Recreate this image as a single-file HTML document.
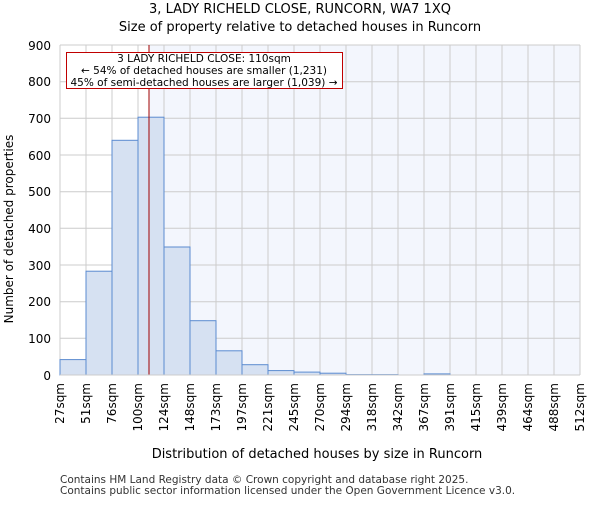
<!DOCTYPE html>
<html><head><style>body{margin:0;background:#fff}svg{font-family:"DejaVu Sans","Liberation Sans",sans-serif}</style></head><body>
<svg width="600" height="500" xmlns="http://www.w3.org/2000/svg">
<text x="300" y="13" font-size="13" text-anchor="middle">3, LADY RICHELD CLOSE, RUNCORN, WA7 1XQ</text>
<text x="300" y="31" font-size="13" text-anchor="middle">Size of property relative to detached houses in Runcorn</text>
<rect x="60" y="45" width="520" height="330" fill="#fff"/>
<rect x="149" y="45" width="431" height="330" fill="#f3f6fd"/>
<g stroke="#cccccc" stroke-width="1">
<line x1="60" x2="580" y1="45" y2="45"/><line x1="60" x2="580" y1="81.7" y2="81.7"/><line x1="60" x2="580" y1="118.3" y2="118.3"/><line x1="60" x2="580" y1="155" y2="155"/><line x1="60" x2="580" y1="191.7" y2="191.7"/><line x1="60" x2="580" y1="228.3" y2="228.3"/><line x1="60" x2="580" y1="265" y2="265"/><line x1="60" x2="580" y1="301.7" y2="301.7"/><line x1="60" x2="580" y1="338.3" y2="338.3"/>
<line x1="60" x2="60" y1="45" y2="375"/><line x1="86" x2="86" y1="45" y2="375"/><line x1="112" x2="112" y1="45" y2="375"/><line x1="138" x2="138" y1="45" y2="375"/><line x1="164" x2="164" y1="45" y2="375"/><line x1="190" x2="190" y1="45" y2="375"/><line x1="216" x2="216" y1="45" y2="375"/><line x1="242" x2="242" y1="45" y2="375"/><line x1="268" x2="268" y1="45" y2="375"/><line x1="294" x2="294" y1="45" y2="375"/><line x1="320" x2="320" y1="45" y2="375"/><line x1="346" x2="346" y1="45" y2="375"/><line x1="372" x2="372" y1="45" y2="375"/><line x1="398" x2="398" y1="45" y2="375"/><line x1="424" x2="424" y1="45" y2="375"/><line x1="450" x2="450" y1="45" y2="375"/><line x1="476" x2="476" y1="45" y2="375"/><line x1="502" x2="502" y1="45" y2="375"/><line x1="528" x2="528" y1="45" y2="375"/><line x1="554" x2="554" y1="45" y2="375"/><line x1="580" x2="580" y1="45" y2="375"/>
</g>
<g fill="#d6e1f2" stroke="#5b8bd0" stroke-width="1">
<rect x="60" y="359.6" width="26" height="15.4"/>
<rect x="86" y="271.2" width="26" height="103.8"/>
<rect x="112" y="140.3" width="26" height="234.7"/>
<rect x="138" y="117.2" width="26" height="257.8"/>
<rect x="164" y="247" width="26" height="128"/>
<rect x="190" y="320.7" width="26" height="54.3"/>
<rect x="216" y="350.8" width="26" height="24.2"/>
<rect x="242" y="364.7" width="26" height="10.3"/>
<rect x="268" y="370.6" width="26" height="4.4"/>
<rect x="294" y="372.1" width="26" height="2.9"/>
<rect x="320" y="373.2" width="26" height="1.8"/>
<rect x="346" y="374.6" width="26" height="0.4"/>
<rect x="372" y="374.6" width="26" height="0.4"/>
<rect x="424" y="373.9" width="26" height="1.1"/>
</g>
<line x1="149" x2="149" y1="45" y2="375" stroke="#a00000" stroke-width="1"/>
<line x1="60" x2="580" y1="375" y2="375" stroke="#ccc"/>
<rect x="66.5" y="52.5" width="276" height="36" fill="#fff" stroke="#c00000"/>
<g font-size="10.5" text-anchor="middle"><text x="204" y="62">3 LADY RICHELD CLOSE: 110sqm</text><text x="204" y="74">← 54% of detached houses are smaller (1,231)</text><text x="204" y="86">45% of semi-detached houses are larger (1,039) →</text></g>
<g font-size="12" text-anchor="end"><text x="51" y="50">900</text><text x="51" y="86">800</text><text x="51" y="123">700</text><text x="51" y="160">600</text><text x="51" y="196">500</text><text x="51" y="233">400</text><text x="51" y="270">300</text><text x="51" y="306">200</text><text x="51" y="343">100</text><text x="51" y="380">0</text></g>
<g font-size="12" text-anchor="end">
<text transform="translate(64,383) rotate(-90)">27sqm</text><text transform="translate(90,383) rotate(-90)">51sqm</text><text transform="translate(116,383) rotate(-90)">76sqm</text><text transform="translate(142,383) rotate(-90)">100sqm</text><text transform="translate(168,383) rotate(-90)">124sqm</text><text transform="translate(194,383) rotate(-90)">148sqm</text><text transform="translate(220,383) rotate(-90)">173sqm</text><text transform="translate(246,383) rotate(-90)">197sqm</text><text transform="translate(272,383) rotate(-90)">221sqm</text><text transform="translate(298,383) rotate(-90)">245sqm</text><text transform="translate(324,383) rotate(-90)">270sqm</text><text transform="translate(350,383) rotate(-90)">294sqm</text><text transform="translate(376,383) rotate(-90)">318sqm</text><text transform="translate(402,383) rotate(-90)">342sqm</text><text transform="translate(428,383) rotate(-90)">367sqm</text><text transform="translate(454,383) rotate(-90)">391sqm</text><text transform="translate(480,383) rotate(-90)">415sqm</text><text transform="translate(506,383) rotate(-90)">439sqm</text><text transform="translate(532,383) rotate(-90)">464sqm</text><text transform="translate(558,383) rotate(-90)">488sqm</text><text transform="translate(584,383) rotate(-90)">512sqm</text>
</g>
<text x="317" y="458" font-size="13" text-anchor="middle">Distribution of detached houses by size in Runcorn</text>
<text transform="translate(13,229) rotate(-90)" font-size="12" text-anchor="middle">Number of detached properties</text>
<text x="60" y="483" font-size="10.5" fill="#333">Contains HM Land Registry data © Crown copyright and database right 2025.</text>
<text x="60" y="494" font-size="10.5" fill="#333">Contains public sector information licensed under the Open Government Licence v3.0.</text>
</svg>
</body></html>
